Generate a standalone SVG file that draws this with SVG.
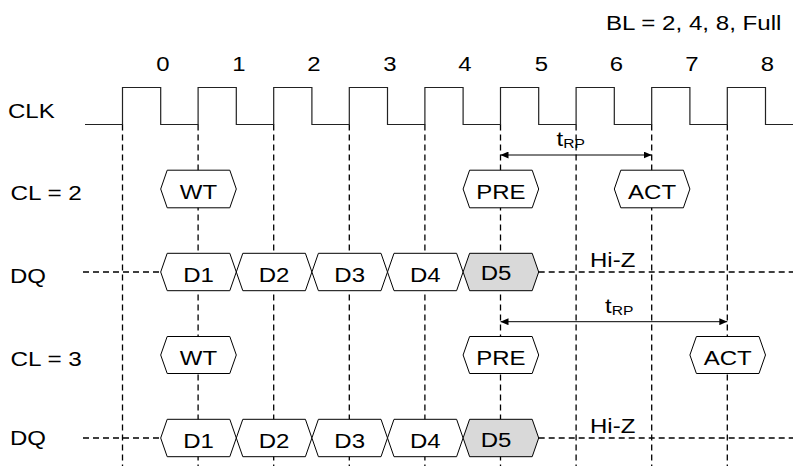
<svg xmlns="http://www.w3.org/2000/svg" width="793" height="466" viewBox="0 0 793 466">
<style>
text{font-family:"Liberation Sans",Arial,sans-serif;font-size:20px;fill:#000}
.c{text-anchor:middle}
.guide{stroke:#000;stroke-width:1.3;stroke-dasharray:6 4;fill:none}
.hex{fill:#fff;stroke:#000;stroke-width:1}
.hexg{fill:#d9d9d9;stroke:#000;stroke-width:1}
.clk{fill:none;stroke:#222;stroke-width:1.2}
.arr{stroke:#000;stroke-width:1;fill:none;marker-start:url(#ah);marker-end:url(#ah)}
</style>
<defs>
<marker id="ah" viewBox="0 0 8 7" refX="8" refY="3.5" markerWidth="8" markerHeight="7" markerUnits="userSpaceOnUse" orient="auto-start-reverse">
<path d="M0,0 L8,3.5 L0,7 Z" fill="#000"/>
</marker>
</defs>
<rect width="793" height="466" fill="#fff"/>

<g id="title"><text x="606" y="29.5" textLength="175.4" lengthAdjust="spacingAndGlyphs">BL = 2, 4, 8, Full</text></g>

<g id="cycle-numbers">
<text class="c" x="163" y="71" textLength="13.3" lengthAdjust="spacingAndGlyphs">0</text>
<text class="c" x="239" y="71" textLength="13.3" lengthAdjust="spacingAndGlyphs">1</text>
<text class="c" x="314" y="71" textLength="13.3" lengthAdjust="spacingAndGlyphs">2</text>
<text class="c" x="390" y="71" textLength="13.3" lengthAdjust="spacingAndGlyphs">3</text>
<text class="c" x="465" y="71" textLength="13.3" lengthAdjust="spacingAndGlyphs">4</text>
<text class="c" x="541.5" y="71" textLength="13.3" lengthAdjust="spacingAndGlyphs">5</text>
<text class="c" x="616.5" y="71" textLength="13.3" lengthAdjust="spacingAndGlyphs">6</text>
<text class="c" x="692" y="71" textLength="13.3" lengthAdjust="spacingAndGlyphs">7</text>
<text class="c" x="767.5" y="71" textLength="13.3" lengthAdjust="spacingAndGlyphs">8</text>
</g>

<g id="row-labels">
<text x="8" y="118" textLength="46.7" lengthAdjust="spacingAndGlyphs">CLK</text>
<text x="10.5" y="200" textLength="71.4" lengthAdjust="spacingAndGlyphs">CL = 2</text>
<text x="10" y="283.3" textLength="36" lengthAdjust="spacingAndGlyphs">DQ</text>
<text x="10.5" y="366" textLength="71.4" lengthAdjust="spacingAndGlyphs">CL = 3</text>
<text x="10" y="445" textLength="36" lengthAdjust="spacingAndGlyphs">DQ</text>
</g>

<g id="guides">
<path class="guide" d="M122.5,124.5V466 M198.1,124.5V466 M273.7,124.5V466 M349.3,124.5V466 M424.9,124.5V466 M500.5,124.5V466 M576.1,124.5V466 M651.7,124.5V466 M727.3,124.5V466"/>
<path class="guide" d="M83,272H160.7 M538.7,272H793 M83,438H160.7 M538.7,438H793"/>
</g>

<g id="clk">
<path class="clk" d="M85,124.5H122.5V87.5H160.7V124.5H198.1V87.5H236.3V124.5H273.7V87.5H311.9V124.5H349.3V87.5H387.5V124.5H424.9V87.5H463.1V124.5H500.5V87.5H538.7V124.5H576.1V87.5H614.3V124.5H651.7V87.5H689.9V124.5H727.3V87.5H765.5V124.5H793"/>
</g>

<g id="cl2-wt"><polygon class="hex" points="160.7,189 167.2,170.2 229.8,170.2 236.3,189 229.8,207.8 167.2,207.8"/><text class="c" x="198.5" y="199.3" textLength="37.3" lengthAdjust="spacingAndGlyphs">WT</text></g>
<g id="cl2-pre"><polygon class="hex" points="463.1,189 469.6,170.2 532.2,170.2 538.7,189 532.2,207.8 469.6,207.8"/><text class="c" x="500.9" y="199" textLength="49.3" lengthAdjust="spacingAndGlyphs">PRE</text></g>
<g id="cl2-act"><polygon class="hex" points="614.3,189 620.8,170.2 683.4,170.2 689.9,189 683.4,207.8 620.8,207.8"/><text class="c" x="652.1" y="199" textLength="48" lengthAdjust="spacingAndGlyphs">ACT</text></g>

<g id="dq1-d1"><polygon class="hex" points="160.7,272 167.2,253.3 229.8,253.3 236.3,272 229.8,290.7 167.2,290.7"/><text class="c" x="198.5" y="282" textLength="30.7" lengthAdjust="spacingAndGlyphs">D1</text></g>
<g id="dq1-d2"><polygon class="hex" points="236.3,272 242.8,253.3 305.4,253.3 311.9,272 305.4,290.7 242.8,290.7"/><text class="c" x="274.1" y="282" textLength="30.7" lengthAdjust="spacingAndGlyphs">D2</text></g>
<g id="dq1-d3"><polygon class="hex" points="311.9,272 318.4,253.3 381,253.3 387.5,272 381,290.7 318.4,290.7"/><text class="c" x="349.7" y="282" textLength="30.7" lengthAdjust="spacingAndGlyphs">D3</text></g>
<g id="dq1-d4"><polygon class="hex" points="387.5,272 394,253.3 456.6,253.3 463.1,272 456.6,290.7 394,290.7"/><text class="c" x="425.3" y="282" textLength="30.7" lengthAdjust="spacingAndGlyphs">D4</text></g>
<g id="dq1-d5"><polygon class="hexg" points="463.1,272 469.6,253.3 532.2,253.3 538.7,272 532.2,290.7 469.6,290.7"/><text class="c" x="496" y="279.5" textLength="30.7" lengthAdjust="spacingAndGlyphs">D5</text></g>
<g id="dq1-hiz"><text x="590" y="266.7" textLength="45.3" lengthAdjust="spacingAndGlyphs">Hi-Z</text></g>

<g id="cl3-wt"><polygon class="hex" points="160.7,355 167.2,336.5 229.8,336.5 236.3,355 229.8,373.5 167.2,373.5"/><text class="c" x="198.5" y="365.3" textLength="37.3" lengthAdjust="spacingAndGlyphs">WT</text></g>
<g id="cl3-pre"><polygon class="hex" points="463.1,355 469.6,336.5 532.2,336.5 538.7,355 532.2,373.5 469.6,373.5"/><text class="c" x="500.9" y="365" textLength="49.3" lengthAdjust="spacingAndGlyphs">PRE</text></g>
<g id="cl3-act"><polygon class="hex" points="689.9,355 696.4,336.5 759,336.5 765.5,355 759,373.5 696.4,373.5"/><text class="c" x="727.7" y="365" textLength="48" lengthAdjust="spacingAndGlyphs">ACT</text></g>

<g id="dq2-d1"><polygon class="hex" points="160.7,438 167.2,419.3 229.8,419.3 236.3,438 229.8,456.7 167.2,456.7"/><text class="c" x="198.5" y="448" textLength="30.7" lengthAdjust="spacingAndGlyphs">D1</text></g>
<g id="dq2-d2"><polygon class="hex" points="236.3,438 242.8,419.3 305.4,419.3 311.9,438 305.4,456.7 242.8,456.7"/><text class="c" x="274.1" y="448" textLength="30.7" lengthAdjust="spacingAndGlyphs">D2</text></g>
<g id="dq2-d3"><polygon class="hex" points="311.9,438 318.4,419.3 381,419.3 387.5,438 381,456.7 318.4,456.7"/><text class="c" x="349.7" y="448" textLength="30.7" lengthAdjust="spacingAndGlyphs">D3</text></g>
<g id="dq2-d4"><polygon class="hex" points="387.5,438 394,419.3 456.6,419.3 463.1,438 456.6,456.7 394,456.7"/><text class="c" x="425.3" y="448" textLength="30.7" lengthAdjust="spacingAndGlyphs">D4</text></g>
<g id="dq2-d5"><polygon class="hexg" points="463.1,438 469.6,419.3 532.2,419.3 538.7,438 532.2,456.7 469.6,456.7"/><text class="c" x="496" y="446.5" textLength="30.7" lengthAdjust="spacingAndGlyphs">D5</text></g>
<g id="dq2-hiz"><text x="590" y="433.3" textLength="45.3" lengthAdjust="spacingAndGlyphs">Hi-Z</text></g>

<g id="connectors">
<line class="arr" x1="500.5" y1="155" x2="651.7" y2="155"/>
<line class="arr" x1="500.5" y1="321.7" x2="727.3" y2="321.7"/>
</g>
<g id="trp-labels">
<text transform="translate(556.5,146) scale(1.2,1)">t<tspan font-size="13" dy="2">RP</tspan></text>
<text transform="translate(605,312.5) scale(1.2,1)">t<tspan font-size="13" dy="2">RP</tspan></text>
</g>
</svg>
